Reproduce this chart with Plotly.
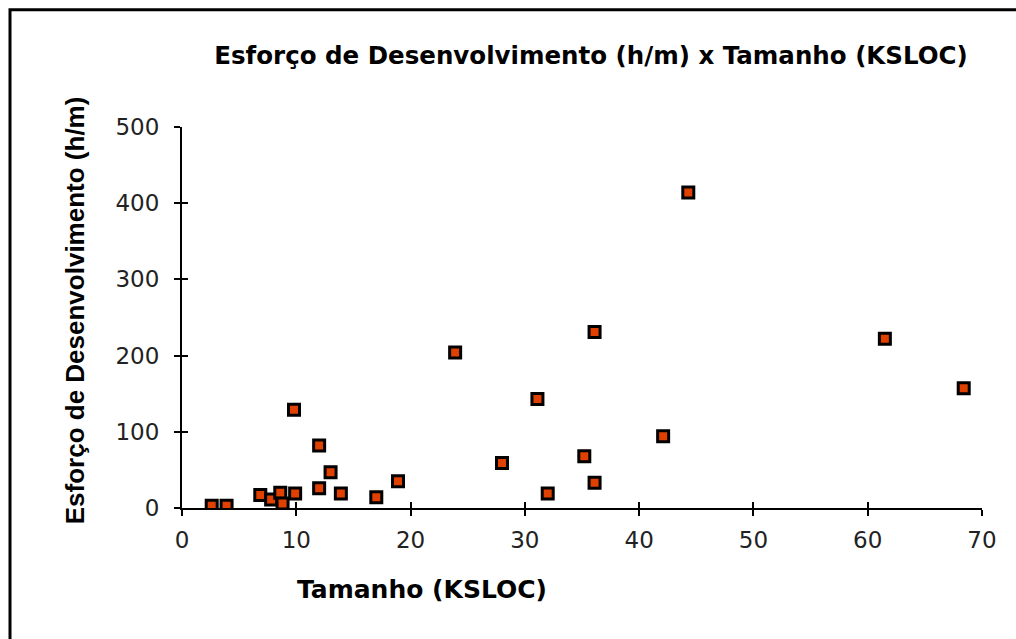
import plotly.graph_objects as go

# Data
tamanho_ksloc = [2.6, 3.9, 6.85, 7.8, 8.6, 8.8, 9.9, 9.8, 12.0, 12.0, 13.0, 13.9, 17.0, 18.9,
                 23.9, 28.0, 31.1, 32.0, 35.2, 36.1, 36.1, 42.1, 44.3, 61.5, 68.4]
esforco_hm = [3, 3, 17, 11, 20, 6, 19, 129, 82, 26, 47, 19, 14, 35,
              204, 59, 143, 19, 68, 33, 231, 94, 414, 222, 157]
x_ticks = [0, 10, 20, 30, 40, 50, 60, 70]
y_ticks = [0, 100, 200, 300, 400, 500]

titulo = "Esforço de Desenvolvimento (h/m) x Tamanho (KSLOC)"
titulo_x = "Tamanho (KSLOC)"
titulo_y = "Esforço de Desenvolvimento (h/m)"

W, H = 1016, 639
L, R, T, B = 182, 34, 126.5, 131
WIDE = "DejaVu Sans, sans-serif"
NARROW = "Liberation Sans, Arial, sans-serif"

fig = go.Figure()
fig.add_trace(go.Scatter(
    x=tamanho_ksloc, y=esforco_hm, mode="markers",
    marker=dict(symbol="square", size=11, color="#E04000",
                line=dict(color="black", width=3)),
    cliponaxis=True, showlegend=False, hoverinfo="x+y",
))

axis_common = dict(showgrid=False, zeroline=False, showline=True, linecolor="black",
                   linewidth=2, ticks="outside", ticklen=6, tickwidth=2, tickcolor="black",
                   tickfont=dict(family=WIDE, size=23, color="#222"))

fig.update_layout(
    width=W, height=H,
    margin=dict(l=L, r=R, t=T, b=B, autoexpand=False),
    paper_bgcolor="white", plot_bgcolor="white",
    title=dict(text="<b>" + titulo + "</b>", x=591 / W, y=1 - 55 / H,
               xref="container", yref="container", xanchor="center", yanchor="middle",
               font=dict(family=WIDE, size=24.5, color="black")),
    xaxis=dict(range=[0, 70], tickvals=x_ticks, ticklabelstandoff=4, **axis_common),
    yaxis=dict(range=[0, 500], tickvals=y_ticks, ticklabelstandoff=10, **axis_common),
    xaxis2=dict(range=[0, 70], tickvals=x_ticks, overlaying="x", anchor="y", side="bottom",
                showgrid=False, zeroline=False, showline=False, ticks="inside", ticklen=6,
                tickwidth=2, tickcolor="black", showticklabels=False),
    yaxis2=dict(range=[0, 500], tickvals=y_ticks, overlaying="y", anchor="x", side="left",
                showgrid=False, zeroline=False, showline=False, ticks="inside", ticklen=6,
                tickwidth=2, tickcolor="black", showticklabels=False),
)

# invisible trace so the overlay axes are rendered
fig.add_trace(go.Scatter(x=tamanho_ksloc[:1], y=esforco_hm[:1], xaxis="x2", yaxis="y2",
                         mode="markers", marker=dict(opacity=0), showlegend=False,
                         hoverinfo="skip"))

pw = W - L - R
ph = H - T - B
fig.add_annotation(text="<b>" + titulo_x + "</b>", xref="paper", yref="paper",
                   x=(422 - L) / pw, y=-(590 - (H - B)) / ph, xanchor="center", yanchor="middle",
                   showarrow=False, font=dict(family=WIDE, size=25, color="black"))
fig.add_annotation(text="<b>" + titulo_y + "</b>", xref="paper", yref="paper",
                   x=-(L - 75) / pw, y=((H - B) - 310) / ph, xanchor="center", yanchor="middle",
                   textangle=-90, showarrow=False, font=dict(family=NARROW, size=26, color="black"))

# outer frame (left and top edges visible, others run off the picture)
fig.add_shape(type="rect", xref="paper", yref="paper",
              x0=-(L - 10) / pw, x1=(W + 20 - L) / pw,
              y0=-(B + 20) / ph, y1=((H - B) - 9) / ph,
              line=dict(color="black", width=3), fillcolor="rgba(0,0,0,0)", layer="below")

fig.write_html("out.html")
